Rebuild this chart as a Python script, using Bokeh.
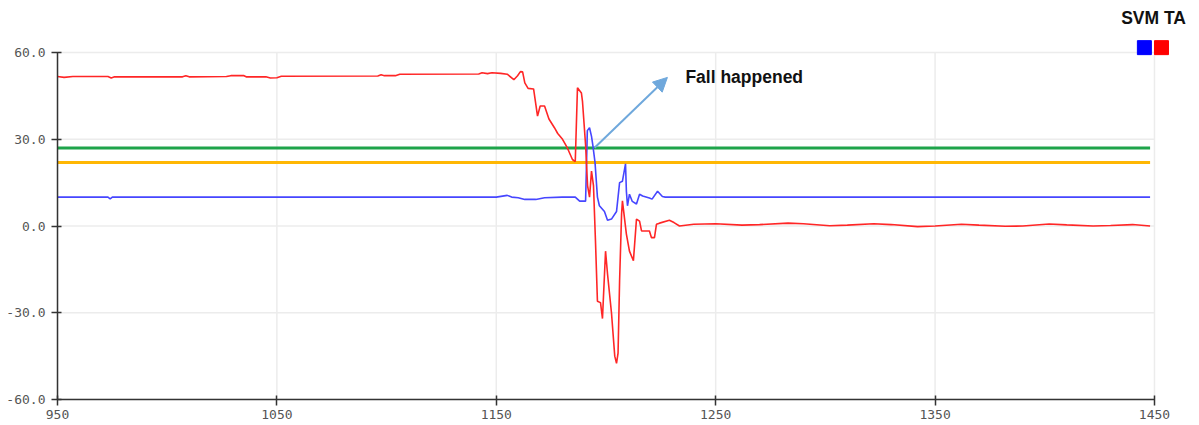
from bokeh.plotting import figure
from bokeh.models import Range1d, FixedTicker, NumeralTickFormatter, Arrow, NormalHead
from bokeh.core.properties import value
from bokeh.embed import file_html
from bokeh.resources import INLINE

# ---- data ----
red_x = [950, 953, 957, 973, 974.5, 976, 1007, 1008.5, 1010, 1027, 1029, 1035, 1036, 1045, 1047, 1050,
         1052, 1096, 1097.5, 1099, 1104, 1106, 1142, 1143.5, 1146, 1148, 1152, 1155, 1158, 1159.7,
         1161, 1162, 1163, 1164.5, 1167, 1168.8, 1170, 1172, 1174, 1176.5, 1178, 1180.2, 1182.4,
         1184.7, 1186, 1187, 1188.8, 1189.3, 1190.7, 1191.6, 1192.5, 1193.4, 1194.3, 1195.2, 1196.1,
         1197.5, 1198.4, 1199.8, 1200.7, 1202.5, 1204, 1204.8, 1205.5, 1206.2, 1207.1, 1207.5, 1209.3,
         1210.7, 1212.5, 1213.9, 1215.3, 1216.2, 1219.8, 1220.7, 1222.1, 1223, 1224.4, 1228.9, 1231,
         1233.5, 1240, 1250, 1262, 1270, 1283, 1290, 1302, 1310, 1322, 1330, 1342, 1350, 1362, 1370,
         1382, 1390, 1402, 1410, 1422, 1430, 1440, 1448]
red_y = [51.7, 51.4, 51.7, 51.7, 51.2, 51.6, 51.6, 52.0, 51.6, 51.7, 52.0, 52.0, 51.6, 51.6, 51.2, 51.3,
         51.8, 51.9, 52.3, 52.0, 52.0, 52.5, 52.6, 53.0, 52.7, 53.0, 52.8, 52.5, 50.6, 52.0,
         53.4, 53.3, 49.5, 47.6, 47.4, 38.0, 41.5, 41.5, 37.0, 34.0, 32.0, 30.0, 27.0,
         23.0, 22.3, 47.8, 46.0, 43.0, 28.0, 14.0, 10.0, 19.0, 14.0, -5.0, -26.0,
         -26.5, -32.0, -8.7, -16.6, -30.0, -45.0, -47.5, -44.0, -19.0, 4.0, 8.7, -2.8,
         -8.7, -12.0, 2.4, 1.7, -1.7, -1.7, -4.0, -4.0, 0.6, 1.0, 2.0, 1.2,
         0.0, 0.6, 0.8, 0.3, 0.5, 1.0, 0.8, 0.1, 0.3, 0.8, 0.5, -0.2, 0.0, 0.6, 0.3,
         -0.1, 0.0, 0.7, 0.4, 0.0, 0.2, 0.5, 0.0]

blue_x = [950, 973, 974, 975, 1150, 1155, 1157, 1160, 1163, 1168, 1172, 1180, 1186, 1188, 1190.7,
          1191.5, 1192.5, 1193.4, 1194, 1195, 1196.1, 1197, 1199.3, 1200.7, 1202.5, 1204.8, 1206.2,
          1207.5, 1208.9, 1209.3, 1209.8, 1210.7, 1212, 1213.9, 1215.3, 1216.7, 1219.8, 1221,
          1223.5, 1225.7, 1227, 1448]
blue_y = [10.0, 10.0, 9.4, 10.0, 10.0, 10.6, 10.0, 9.8, 9.2, 9.2, 9.8, 10.0, 10.0, 8.6, 8.6,
          33.0, 34.0, 31.0, 28.0, 22.0, 10.0, 7.0, 5.0, 2.0, 2.4, 5.0, 15.0,
          15.5, 21.5, 12.0, 7.0, 11.0, 8.5, 7.6, 11.0, 10.4, 9.7, 9.3,
          12.0, 10.2, 10.0, 10.0]

green_level = 27.0
orange_level = 22.0
line_span = [950, 1448]

x_ticks = [950, 1050, 1150, 1250, 1350, 1450]
y_ticks = [-60, -30, 0, 30, 60]

title_text = "SVM TA"
note_text = "Fall happened"

# ---- figure ----
p = figure(width=1195, height=423, output_backend="svg", toolbar_location=None,
           x_range=Range1d(950, 1468.7), y_range=Range1d(-60, 78.0),
           min_border_left=57, min_border_right=0, min_border_top=0, min_border_bottom=24)
p.outline_line_color = None
p.background_fill_color = "white"
p.xgrid.visible = False
p.ygrid.visible = False

# grid lines from tick arrays
p.segment(x0=x_ticks, x1=x_ticks, y0=[y_ticks[0]] * len(x_ticks), y1=[y_ticks[-1]] * len(x_ticks),
          line_color="#ececec", line_width=1.5)
p.segment(x0=[x_ticks[0]] * len(y_ticks), x1=[x_ticks[-1]] * len(y_ticks), y0=y_ticks, y1=y_ticks,
          line_color="#ececec", line_width=1.5)

# axes
for ax in (p.xaxis[0], p.yaxis[0]):
    ax.axis_line_color = "#333333"
    ax.axis_line_width = 1.5
    ax.major_tick_line_color = "#333333"
    ax.major_tick_line_width = 1.5
    ax.minor_tick_line_color = None
    ax.major_tick_out = 6
    ax.major_tick_in = 4
    ax.major_label_text_font = "DejaVu Sans Mono"
    ax.major_label_text_font_size = "13px"
    ax.major_label_text_color = "#555555"
p.xaxis.ticker = FixedTicker(ticks=x_ticks)
p.yaxis.ticker = FixedTicker(ticks=y_ticks)
p.xaxis.bounds = (x_ticks[0], x_ticks[-1])
p.yaxis.bounds = (y_ticks[0], y_ticks[-1])
p.yaxis.formatter = NumeralTickFormatter(format="0.0")
p.xaxis.major_label_standoff = 4
p.yaxis.major_label_standoff = 6

# threshold lines
p.line(line_span, [green_level, green_level], line_color="#1ea44a", line_width=3)
p.line(line_span, [orange_level, orange_level], line_color="#ffb703", line_width=3)

# series
p.line(blue_x, blue_y, line_color="#4646ff", line_width=1.6)
p.line(red_x, red_y, line_color="#ff2626", line_width=1.6)

# arrow + annotation
p.add_layout(Arrow(end=NormalHead(size=14, fill_color="#6fa8dc", line_color="#6fa8dc"),
                   x_start=1194.8, y_start=27.1, x_end=1228.0, y_end=51.4,
                   line_color="#6fa8dc", line_width=2))
p.text(x=[1236.2], y=[51.4], text=[note_text], text_font=value("Liberation Sans"),
       text_font_style="bold", text_font_size="17.5px", text_baseline="middle",
       text_align="left", text_color="#111111")

# legend-like header
p.text(x=[1449.6], y=[71.8], text=[title_text], text_font=value("Liberation Sans"),
       text_font_style="bold", text_font_size="17.5px", text_baseline="middle",
       text_align="center", text_color="#111111")
p.scatter(x=[1445.4], y=[61.7], marker="square", size=14, fill_color="#0000ff", line_color="#0000ff")
p.scatter(x=[1453.2], y=[61.7], marker="square", size=14, fill_color="#ff0000", line_color="#ff0000")

open("out.html", "w").write(file_html(p, INLINE))
